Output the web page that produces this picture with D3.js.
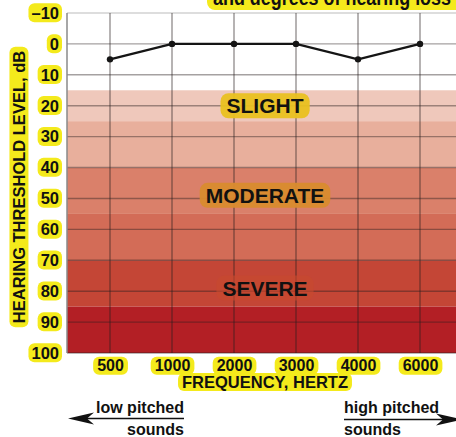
<!DOCTYPE html>
<html>
<head>
<meta charset="utf-8">
<script src="https://cdn.jsdelivr.net/npm/d3@7"></script>
<style>
  html, body { margin: 0; padding: 0; background: #fff; }
  svg { display: block; font-family: "Liberation Sans", Arial, sans-serif; font-weight: bold; }
</style>
</head>
<body>
<div id="chart"></div>
<script>
// data
const frequencies = [500, 1000, 2000, 3000, 4000, 6000];
const thresholds = [5, 0, 0, 0, 5, 0];
const dbTicks = [-10, 0, 10, 20, 30, 40, 50, 60, 70, 80, 90, 100];
const bandFrom = [15, 25, 40, 55, 70, 85];
const bandTo = [25, 40, 55, 70, 85, 100];
const lossNames = ["SLIGHT", "MODERATE", "SEVERE"];
const lossLabelDb = [20, 49, 79];

// styles
const bandColors = ["#efc8bb", "#e8af9c", "#da806a", "#d36c57", "#c44636", "#b31f25"];
const lossLabelFill = ["#e9c11f", "#d98b2e", "#c8492f"];
const yellow = "#f4ea1c";

const W = 456, H = 437;
const svg = d3.select("#chart").append("svg").attr("width", W).attr("height", H);

const plotLeft = 67, plotRight = 475, plotTop = 13, plotBottom = 353;
const y = d3.scaleLinear().domain([-10, 100]).range([plotTop, plotBottom]);
const x = d3.scalePoint().domain(frequencies).range([110, 420]);

// title (cut off at the top)
const title = svg.append("g");
title.append("rect").attr("x", 207).attr("y", -30).attr("width", 260).attr("height", 40)
  .attr("rx", 8).attr("fill", yellow);
title.append("text").attr("x", 213).attr("y", 5).attr("font-size", 22)
  .attr("textLength", 238).attr("lengthAdjust", "spacingAndGlyphs")
  .attr("fill", "#111").text("and degrees of hearing loss");

// white plot background
svg.append("rect").attr("x", plotLeft).attr("y", plotTop)
  .attr("width", plotRight - plotLeft).attr("height", plotBottom - plotTop).attr("fill", "#fff");

// loss bands
svg.selectAll("rect.band").data(bandFrom).enter().append("rect")
  .attr("class", "band")
  .attr("x", plotLeft).attr("width", plotRight - plotLeft)
  .attr("y", d => y(d))
  .attr("height", (d, i) => y(bandTo[i]) - y(d))
  .attr("fill", (d, i) => bandColors[i]);

// grid
svg.selectAll("line.hgrid").data(dbTicks).enter().append("line")
  .attr("class", "hgrid")
  .attr("x1", plotLeft).attr("x2", plotRight)
  .attr("y1", d => y(d)).attr("y2", d => y(d))
  .attr("stroke", d => d === -10 ? "rgba(0,0,0,0.18)" : "rgba(40,30,30,0.42)")
  .attr("stroke-width", 1.4);
svg.selectAll("line.vgrid").data(frequencies).enter().append("line")
  .attr("class", "vgrid")
  .attr("x1", d => x(d)).attr("x2", d => x(d))
  .attr("y1", plotTop).attr("y2", plotBottom)
  .attr("stroke", "rgba(40,30,30,0.45)").attr("stroke-width", 1.5);
svg.append("line").attr("x1", plotLeft).attr("x2", plotLeft)
  .attr("y1", plotTop).attr("y2", plotBottom)
  .attr("stroke", "#8a8a8a").attr("stroke-width", 1.5);

// degree labels
const lx = (x(2000) + x(3000)) / 2;
lossNames.forEach((name, i) => {
  const g = svg.append("g");
  const t = g.append("text").attr("x", lx).attr("y", y(lossLabelDb[i]))
    .attr("text-anchor", "middle").attr("dy", "0.36em")
    .attr("font-size", 21).attr("fill", "#111").text(name);
  const b = t.node().getBBox();
  g.insert("rect", "text").attr("x", b.x - 6).attr("y", y(lossLabelDb[i]) - 12.5)
    .attr("width", b.width + 12).attr("height", 25).attr("rx", 8)
    .attr("fill", lossLabelFill[i]).attr("opacity", i === 2 ? 0.6 : 0.95);
});

// audiogram line
const line = d3.line().x((d, i) => x(frequencies[i])).y(d => y(d));
svg.append("path").datum(thresholds).attr("d", line)
  .attr("fill", "none").attr("stroke", "#151515").attr("stroke-width", 2.4);
svg.selectAll("circle.pt").data(thresholds).enter().append("circle")
  .attr("class", "pt")
  .attr("cx", (d, i) => x(frequencies[i])).attr("cy", d => y(d))
  .attr("r", 3.2).attr("fill", "#151515");

// pill helper
function pill(sel, padX, h) {
  sel.each(function () {
    const t = d3.select(this);
    const b = this.getBBox();
    d3.select(this.parentNode).insert("rect", "text")
      .attr("x", b.x - padX).attr("y", b.y + b.height / 2 - h / 2)
      .attr("width", b.width + padX * 2).attr("height", h)
      .attr("rx", 6).attr("fill", yellow);
  });
}

// y axis
const yAxis = svg.append("g").attr("transform", `translate(${plotLeft - 6},0)`)
  .call(d3.axisLeft(y).tickValues(dbTicks).tickSize(0).tickPadding(2)
    .tickFormat(d => d < 0 ? "\u2013" + Math.abs(d) : d));
yAxis.select(".domain").remove();
yAxis.selectAll("text").attr("font-size", 16.5).attr("font-weight", "bold")
  .attr("font-family", "Liberation Sans, Arial, sans-serif").attr("fill", "#111");
pill(yAxis.selectAll("text"), 3, 19);

// x axis
const xAxis = svg.append("g").attr("transform", `translate(0,${plotBottom})`)
  .call(d3.axisBottom(x).tickSize(0).tickPadding(7));
xAxis.select(".domain").remove();
xAxis.selectAll("text").attr("font-size", 16).attr("font-weight", "bold")
  .attr("font-family", "Liberation Sans, Arial, sans-serif").attr("fill", "#111");
pill(xAxis.selectAll("text"), 4, 18);

// axis titles
const xt = svg.append("g");
xt.append("text").attr("x", 265).attr("y", 382).attr("dy", "0.36em")
  .attr("text-anchor", "middle").attr("font-size", 16.5).attr("fill", "#111")
  .text("FREQUENCY, HERTZ");
pill(xt.selectAll("text"), 4, 18);

const yt = svg.append("g").attr("transform", "translate(19,187) rotate(-90)");
yt.append("text").attr("x", 0).attr("y", 0).attr("dy", "0.36em")
  .attr("text-anchor", "middle").attr("font-size", 16.5).attr("fill", "#111")
  .text("HEARING THRESHOLD LEVEL, dB");
pill(yt.selectAll("text"), 4, 19);

// pitch arrows
const arrows = svg.append("g").attr("fill", "#111");
arrows.append("text").attr("x", 184).attr("y", 413).attr("text-anchor", "end")
  .attr("font-size", 16).text("low pitched");
arrows.append("text").attr("x", 184).attr("y", 435).attr("text-anchor", "end")
  .attr("font-size", 16).text("sounds");
arrows.append("line").attr("x1", 80).attr("x2", 184).attr("y1", 418.5).attr("y2", 418.5)
  .attr("stroke", "#111").attr("stroke-width", 1.6);
arrows.append("path").attr("d", "M68,418.5 L94,412.5 L87,418.5 L94,424.5 Z");

arrows.append("text").attr("x", 344).attr("y", 413).attr("font-size", 16).text("high pitched");
arrows.append("text").attr("x", 344).attr("y", 435).attr("font-size", 16).text("sounds");
arrows.append("line").attr("x1", 344).attr("x2", 450).attr("y1", 419.5).attr("y2", 419.5)
  .attr("stroke", "#111").attr("stroke-width", 1.6);
arrows.append("path").attr("d", "M462,419.5 L436,413.5 L443,419.5 L436,425.5 Z");
</script>
</body>
</html>
